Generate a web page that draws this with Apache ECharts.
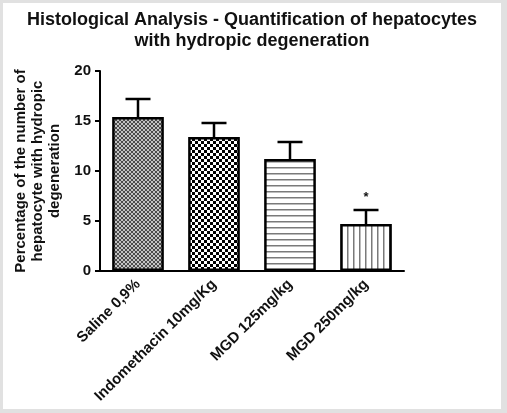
<!DOCTYPE html>
<html><head><meta charset="utf-8">
<script src="https://cdn.jsdelivr.net/npm/echarts@6/dist/echarts.min.js"></script>
<style>
html,body{margin:0;padding:0;background:#e1e1e1;width:507px;height:413px;overflow:hidden;}
#c{position:absolute;left:3px;top:3px;width:498px;height:406px;background:#fff;}
</style></head><body>
<div id="c"></div>
<script>
var categories = ['Saline 0,9%', 'Indomethacin 10mg/Kg', 'MGD 125mg/kg', 'MGD 250mg/kg'];
var means = [15.4, 13.4, 11.2, 4.7];
var errTops = [17.2, 14.8, 12.9, 6.1];
var marks = ['', '', '', '*'];
var yTicks = [0, 5, 10, 15, 20];

function mk(w, h, draw) {
  var c = document.createElement('canvas');
  c.width = w; c.height = h;
  var g = c.getContext('2d');
  g.fillStyle = '#fff'; g.fillRect(0, 0, w, h);
  draw(g);
  return { image: c, repeat: 'repeat' };
}
var patterns = [
  mk(4, 4, function (g) { g.fillStyle = '#c4c4c4'; g.fillRect(0,0,4,4); g.fillStyle = '#4c4c4c'; g.fillRect(0,0,2,2); g.fillRect(2,2,2,2); }),
  mk(6, 6, function (g) { g.fillStyle = '#000'; g.fillRect(0,0,3,3); g.fillRect(3,3,3,3); }),
  mk(6, 6, function (g) { g.fillStyle = '#7a7a7a'; g.fillRect(0,2,6,1.5); }),
  mk(6, 6, function (g) { g.fillStyle = '#7a7a7a'; g.fillRect(2,0,1.5,6); })
];

var font = "'Liberation Sans', Arial, sans-serif";
var chart = echarts.init(document.getElementById('c'));
chart.setOption({
  animation: false,
  title: {
    text: 'Histological Analysis - Quantification of hepatocytes\nwith hydropic degeneration',
    left: 'center', top: 2,
    textStyle: { fontFamily: font, fontWeight: 'bold', fontSize: 18, lineHeight: 21, color: '#111' }
  },
  graphic: [{
    type: 'text', x: 35, y: 168, rotation: Math.PI / 2,
    style: { text: 'Percentage of the number of\nhepatocyte with hydropic\ndegeneration',
      align: 'center', verticalAlign: 'middle', font: 'bold 15px ' + font, lineHeight: 17, fill: '#111' }
  }],
  grid: { left: 97, right: 97, top: 68, bottom: 138, outerBoundsMode: 'none', containLabel: false },
  xAxis: {
    type: 'category', data: categories,
    axisLine: { lineStyle: { color: '#000', width: 2 } },
    axisTick: { alignWithLabel: true, length: 5, lineStyle: { color: '#000', width: 2 } },
    axisLabel: { rotate: 45, margin: 11, fontFamily: font, fontWeight: 'bold', fontSize: 15, color: '#111' }
  },
  yAxis: {
    type: 'value', min: 0, max: 20, interval: 5,
    splitLine: { show: false },
    axisLine: { show: true, lineStyle: { color: '#000', width: 2 } },
    axisTick: { show: true, length: 5, lineStyle: { color: '#000', width: 2 } },
    axisLabel: { margin: 9, fontFamily: font, fontWeight: 'bold', fontSize: 15, color: '#111',
      formatter: function (v) { return yTicks.indexOf(v) >= 0 ? String(v) : ''; } }
  },
  series: [{
    type: 'bar', barWidth: '68%',
    data: means.map(function (v, i) {
      return { value: v, itemStyle: { color: patterns[i], borderColor: '#000', borderWidth: 2.5 } };
    }),
    z: 2
  }, {
    type: 'custom', z: 3,
    data: means.map(function (v, i) { return [i, v, errTops[i]]; }),
    renderItem: function (params, api) {
      var i = api.value(0);
      var p0 = api.coord([i, api.value(1)]);
      var p1 = api.coord([i, api.value(2)]);
      var half = 12.5;
      var children = [
        { type: 'line', shape: { x1: p0[0], y1: p0[1], x2: p1[0], y2: p1[1] }, style: { stroke: '#000', lineWidth: 2.5 } },
        { type: 'line', shape: { x1: p1[0] - half, y1: p1[1], x2: p1[0] + half, y2: p1[1] }, style: { stroke: '#000', lineWidth: 2.5 } }
      ];
      var m = marks[params.dataIndex];
      if (m) {
        children.push({ type: 'text', style: { text: m, x: p1[0], y: p1[1] - 6, align: 'center', verticalAlign: 'bottom',
          font: 'bold 13px ' + font, fill: '#111' } });
      }
      return { type: 'group', children: children };
    }
  }]
});
</script>
</body></html>
